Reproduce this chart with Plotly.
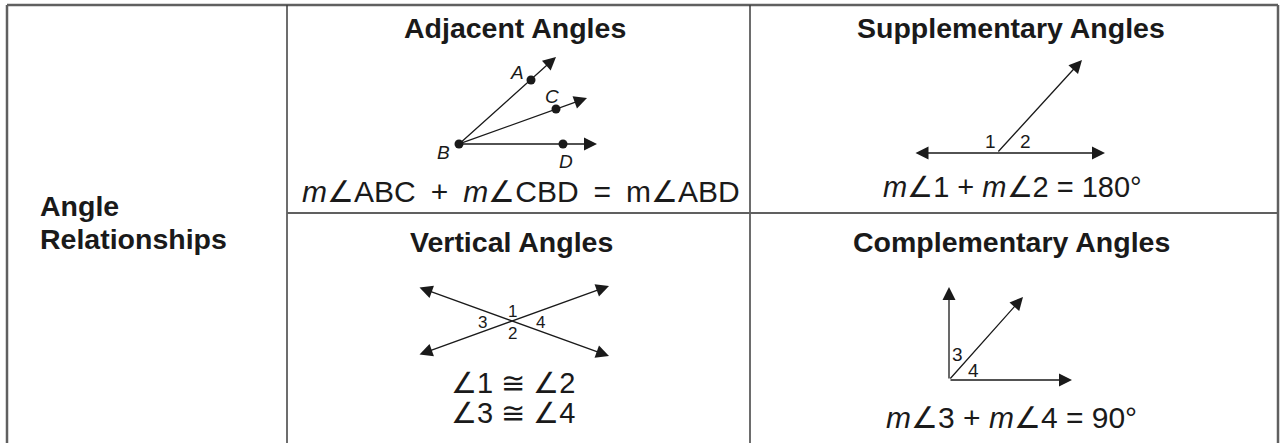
import plotly.graph_objects as go

# --- content -----------------------------------------------------------
ROW_HEADER = ["Angle", "Relationships"]
CELL_TITLES = ["Adjacent Angles", "Supplementary Angles",
               "Vertical Angles", "Complementary Angles"]
ADJ_EQUATION = ["<i>m</i>∠ABC\u2002+\u2002<i>m</i>∠CBD\u2002=\u2002m∠ABD"]
SUPP_EQUATION = ["<i>m</i>∠1 + <i>m</i>∠2 = 180°"]
VERT_EQUATIONS = ["∠1 ≅ ∠2", "∠3 ≅ ∠4"]
COMP_EQUATION = ["<i>m</i>∠3 + <i>m</i>∠4 = 90°"]

# adjacent angles: vertex B and the points on each ray
ADJ_NAMES = ["A", "C", "D"]
ADJ_VERTEX = (459, 144)
ADJ_PTS_X = [531, 556, 563]
ADJ_PTS_Y = [80, 109, 144]
ADJ_TIPS_X = [556, 587, 597]
ADJ_TIPS_Y = [57, 98, 144]

# supplementary: straight line + one ray from the vertex
SUPP_LINE_X = [914, 1105]
SUPP_LINE_Y = [153, 153]
SUPP_RAY_X = [997, 1082]
SUPP_RAY_Y = [153, 60]
SUPP_NUMS = ["1", "2"]

# vertical: two crossing lines
VERT_L1_X = [418, 609]
VERT_L1_Y = [287, 356]
VERT_L2_X = [418, 609]
VERT_L2_Y = [355, 286]
VERT_NUMS = ["1", "2", "3", "4"]

# complementary: right angle with a ray inside
COMP_VERTEX = (949, 380)
COMP_TIPS_X = [949, 1072, 1023]
COMP_TIPS_Y = [287, 380, 297]
COMP_NUMS = ["3", "4"]

W, H = 1280, 443
FONT = "Liberation Sans, Arial, Helvetica, sans-serif"
NARROW = "Liberation Sans Narrow, Liberation Sans, Arial, sans-serif"
INK = "#1a1a1a"
TITLE_SIZE = 28.5
EQ_SIZE = 29

fig = go.Figure()
ann = []


def text(x, y, s, size, bold=False, italic=False, family=FONT, xanchor="center"):
    if bold:
        s = f"<b>{s}</b>"
    if italic:
        s = f"<i>{s}</i>"
    ann.append(dict(x=x, y=y, xref="x", yref="y", text=s, showarrow=False,
                    xanchor=xanchor, yanchor="middle", align="left",
                    font=dict(family=family, size=size, color=INK)))


def arrow(x0, y0, x1, y1, both=False):
    ann.append(dict(x=x1, y=y1, ax=x0, ay=y0, xref="x", yref="y",
                    axref="x", ayref="y", text="", showarrow=True,
                    arrowhead=2, arrowsize=2, arrowwidth=1.3,
                    arrowcolor=INK, standoff=0, startstandoff=0,
                    startarrowhead=2, startarrowsize=2,
                    arrowside="end+start" if both else "end"))


# --- table grid --------------------------------------------------------
grid_outer = dict(color="#606060", width=2.5)
grid_inner = dict(color="#3c3c3c", width=1.5)
shapes = [
    dict(type="line", x0=7, y0=5, x1=1278, y1=5, line=grid_outer),
    dict(type="line", x0=7, y0=5, x1=7, y1=H, line=grid_outer),
    dict(type="line", x0=1278, y0=5, x1=1278, y1=H, line=grid_outer),
    dict(type="line", x0=287, y0=5, x1=287, y1=H, line=grid_inner),
    dict(type="line", x0=750, y0=5, x1=750, y1=H, line=grid_inner),
    dict(type="line", x0=287, y0=213, x1=1278, y1=213, line=dict(color="#606060", width=2)),
]
for s in shapes:
    s.update(xref="x", yref="y", layer="above")

# --- header + titles ---------------------------------------------------
text(38, 206, ROW_HEADER[0], TITLE_SIZE, bold=True, xanchor="left")
text(38, 239, ROW_HEADER[1], TITLE_SIZE, bold=True, xanchor="left")
text(515, 28, CELL_TITLES[0], TITLE_SIZE, bold=True)
text(1011, 28, CELL_TITLES[1], TITLE_SIZE, bold=True)
text(511, 242, CELL_TITLES[2], TITLE_SIZE, bold=True)
text(1011, 242, CELL_TITLES[3], TITLE_SIZE, bold=True)

# --- adjacent angles ---------------------------------------------------
bx, by = ADJ_VERTEX
for tx, ty in zip(ADJ_TIPS_X, ADJ_TIPS_Y):
    arrow(bx, by, tx, ty)
fig.add_trace(go.Scatter(x=[bx] + ADJ_PTS_X, y=[by] + ADJ_PTS_Y, mode="markers",
                         marker=dict(size=9, color=INK), hoverinfo="skip"))
for name, lx, ly in zip(["B"] + ADJ_NAMES, [443, 517, 552, 566], [152, 72, 96, 161]):
    text(lx, ly, name, 19, italic=True)
text(521, 191, ADJ_EQUATION[0], 30)

# --- supplementary angles ----------------------------------------------
arrow(SUPP_LINE_X[0], SUPP_LINE_Y[0], SUPP_LINE_X[1], SUPP_LINE_Y[1], both=True)
arrow(SUPP_RAY_X[0], SUPP_RAY_Y[0], SUPP_RAY_X[1], SUPP_RAY_Y[1])
for n, lx in zip(SUPP_NUMS, [990, 1025]):
    text(lx, 141, n, 19)
text(1012, 187, SUPP_EQUATION[0], EQ_SIZE)

# --- vertical angles ---------------------------------------------------
arrow(VERT_L1_X[0], VERT_L1_Y[0], VERT_L1_X[1], VERT_L1_Y[1], both=True)
arrow(VERT_L2_X[0], VERT_L2_Y[0], VERT_L2_X[1], VERT_L2_Y[1], both=True)
for n, lx, ly in zip(VERT_NUMS, [512, 512, 482, 540], [311, 333, 322, 322]):
    text(lx, ly, n, 17, family=NARROW)
text(513, 383, VERT_EQUATIONS[0], EQ_SIZE)
text(513, 413, VERT_EQUATIONS[1], EQ_SIZE)

# --- complementary angles ----------------------------------------------
cx, cy = COMP_VERTEX
for tx, ty in zip(COMP_TIPS_X, COMP_TIPS_Y):
    arrow(cx, cy, tx, ty)
for n, lx, ly in zip(COMP_NUMS, [957, 973], [354, 370]):
    text(lx, ly, n, 19)
text(1011, 417, COMP_EQUATION[0], 30)

fig.update_layout(
    width=W, height=H, margin=dict(l=0, r=0, t=0, b=0),
    paper_bgcolor="white", plot_bgcolor="white", showlegend=False,
    xaxis=dict(range=[0, W], visible=False, fixedrange=True),
    yaxis=dict(range=[H, 0], visible=False, fixedrange=True),
    shapes=shapes, annotations=ann,
)
fig.write_html("out.html", config={"displayModeBar": False},
               post_script="document.body.style.margin='0px';")
